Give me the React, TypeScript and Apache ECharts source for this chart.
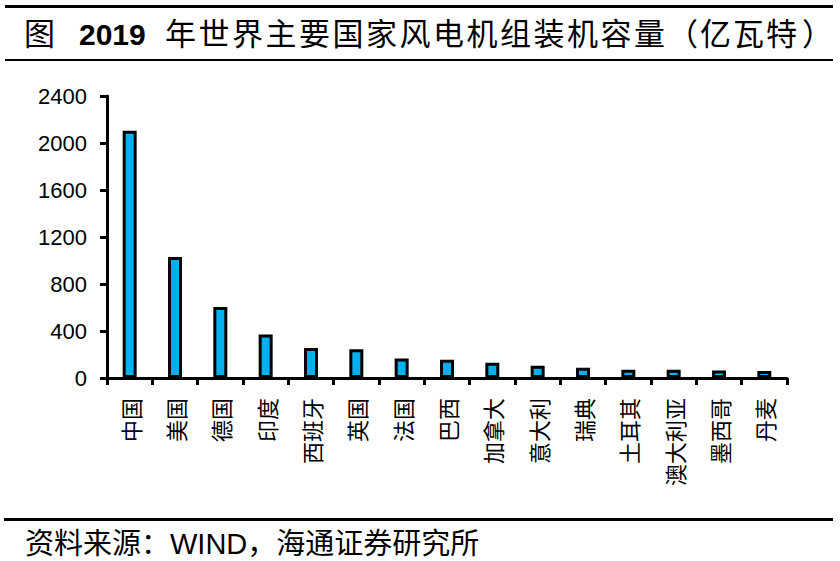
import React, { useEffect, useRef } from "react";
import * as echarts from "echarts";

const categories = ["中国", "美国", "德国", "印度", "西班牙", "英国", "法国", "巴西", "加拿大", "意大利", "瑞典", "土耳其", "澳大利亚", "墨西哥", "丹麦"];
const values = [2105, 1030, 605, 370, 255, 245, 165, 155, 130, 105, 88, 70, 70, 63, 60];
const yTicks = { min: 0, max: 2400, interval: 400 };
const titleLead = "图";
const titleYear = "2019";
const titleMain = "年世界主要国家风电机组装机容量";
const titleUnit = ["（", "亿", "瓦", "特", "）"];
const sourceText = "资料来源：WIND，海通证券研究所";

const LATIN = "'Liberation Sans', Arial, sans-serif";
const CJK = "'Liberation Sans', 'Noto Sans CJK SC', sans-serif";

export default function App() {
  const ref = useRef<HTMLDivElement>(null);
  useEffect(() => {
    if (!ref.current) return;
    const chart = echarts.init(ref.current, null, { renderer: "svg" });
    const TY = 34;
    const mk = (text: string, x: number, font: string) => ({
      type: "text",
      x,
      y: TY,
      style: { text, font, fill: "#000", verticalAlign: "middle" },
    });
    const titleGraphics: any[] = [];
    titleGraphics.push(mk(titleLead, 24, `31px ${CJK}`));
    titleGraphics.push(mk(titleYear, 79, `bold 30px ${LATIN}`));
    Array.from(titleMain).forEach((ch, i) => {
      titleGraphics.push(mk(ch, 165 + i * 33.5, `31px ${CJK}`));
    });
    const unitX = [667, 700, 733, 766, 802];
    titleUnit.forEach((ch, i) => titleGraphics.push(mk(ch, unitX[i], `31px ${CJK}`)));

    chart.setOption({
      animation: false,
      backgroundColor: "#ffffff",
      grid: { left: 107, right: 53, top: 96, bottom: 183, containLabel: false },
      xAxis: {
        type: "category",
        data: categories,
        axisLine: { lineStyle: { color: "#000", width: 3 } },
        axisTick: { show: true, alignWithLabel: false, length: 7, lineStyle: { color: "#000", width: 3 } },
        axisLabel: {
          rotate: 90,
          interval: 0,
          color: "#000",
          fontSize: 22,
          fontFamily: "'Noto Sans CJK SC', sans-serif",
          margin: 20,
        },
      },
      yAxis: {
        type: "value",
        min: yTicks.min,
        max: yTicks.max,
        interval: yTicks.interval,
        splitLine: { show: false },
        axisLine: { show: true, lineStyle: { color: "#000", width: 3 } },
        axisTick: { show: true, length: 7, lineStyle: { color: "#000", width: 3 } },
        axisLabel: {
          color: "#000",
          fontSize: 22,
          fontFamily: LATIN,
          margin: 20,
          formatter: (v: number) => String(v),
        },
      },
      series: [
        {
          type: "bar",
          data: values,
          barWidth: 14,
          itemStyle: { color: "#00B0F0", borderColor: "#000", borderWidth: 3 },
        },
      ],
      graphic: [
        { type: "rect", shape: { x: 5, y: 5, width: 828, height: 3 }, style: { fill: "#000" } },
        ...titleGraphics,
        { type: "rect", shape: { x: 5, y: 59, width: 828, height: 2 }, style: { fill: "#000" } },
        { type: "rect", shape: { x: 4, y: 518, width: 829, height: 3 }, style: { fill: "#000" } },
        {
          type: "text",
          x: 25,
          y: 544,
          style: {
            text: sourceText,
            font: `29px ${CJK}`,
            fill: "#000",
            verticalAlign: "middle",
          },
        },
      ],
    });
    return () => chart.dispose();
  }, []);
  return <div ref={ref} style={{ position: "fixed", left: 0, top: 0, width: 840, height: 561 }} />;
}
